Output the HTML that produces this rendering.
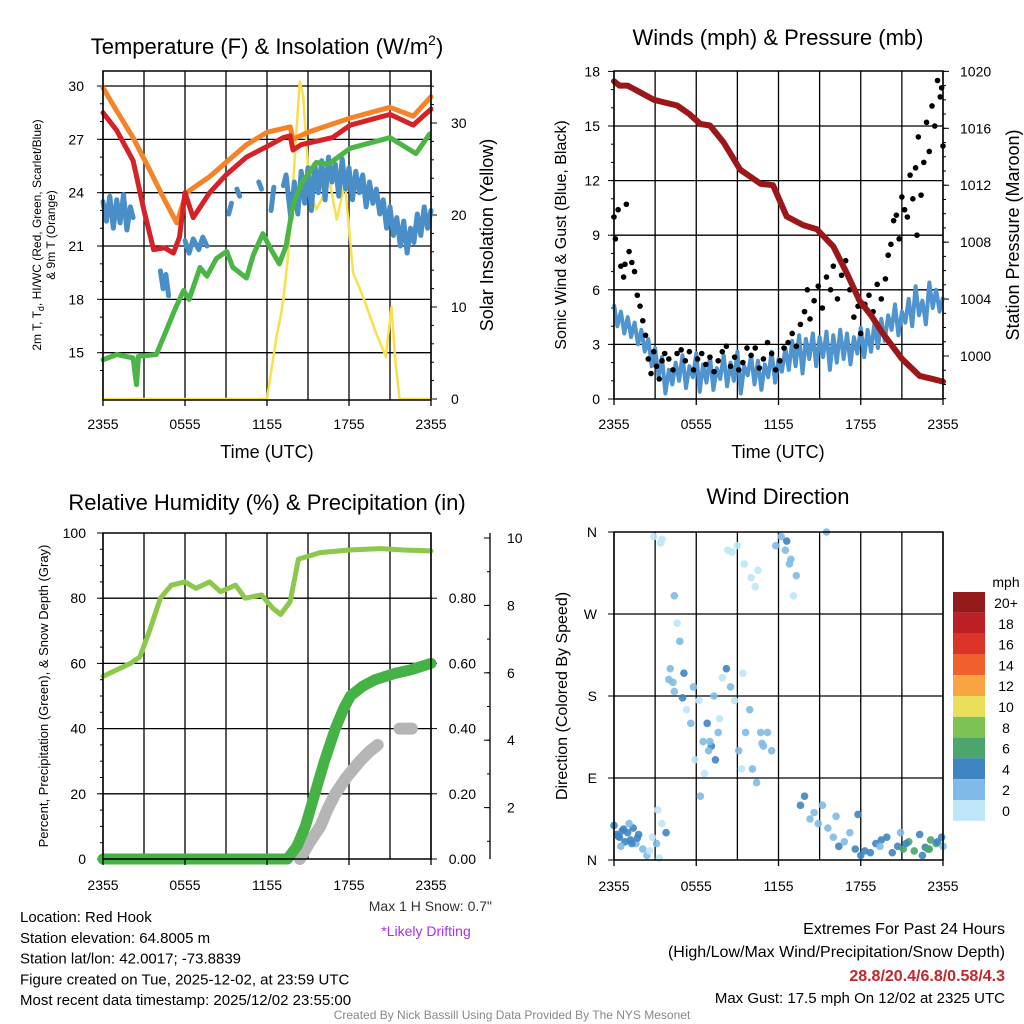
<!DOCTYPE html>
<html><head><meta charset="utf-8"><style>
body{margin:0;background:#fff;}
svg{display:block;font-family:"Liberation Sans",sans-serif;}
</style></head><body>
<svg id="c" width="1024" height="1024" viewBox="0 0 1024 1024" xmlns="http://www.w3.org/2000/svg"></svg>
<script>
// ---------- data ----------
const tempHours=[0,1,2.2,3.0,3.7,4.5,5.15,5.6,6.0,6.6,7.8,9,10.5,12,13.2,13.7,13.9,14.5,16.8,18.1,21.0,22.7,24];
const airTemp=[28.5,27.5,25.8,23.0,20.8,20.9,20.6,21.5,24.0,22.6,24.0,25.0,26.0,26.6,27.1,27.2,26.4,26.7,27.1,27.8,28.4,27.8,28.7];
const orangeHours=[0,1,2.2,3.4,4.5,5.4,6.1,7.8,10.5,12.0,13.7,13.9,15,18.1,21,22.7,24];
const temp9m=[29.9,28.6,27.1,25.3,23.6,22.3,24.0,24.9,26.7,27.4,27.7,27.0,27.4,28.2,28.8,28.3,29.4];
const dewHours=[0,1,2.2,2.45,2.6,3.9,4.5,5.3,5.9,6.3,7.1,7.6,8.3,9.05,9.5,10.5,11.0,11.7,12.3,12.9,13.4,13.9,14.5,15.6,16.5,18.1,21.0,22.9,23.9];
const dewPoint=[14.6,14.9,14.7,13.2,14.8,14.9,16.0,17.5,18.5,18.0,19.8,19.3,20.3,20.7,19.8,19.2,20.5,21.7,20.8,20.0,21.0,23.3,24.5,25.7,25.6,26.5,27.1,26.2,27.3];
const chillHours=[0,0.25,0.5,0.75,1,1.25,1.5,1.75,2.0,2.2,null,4.2,4.4,4.6,4.8,null,6.0,6.3,6.6,7.0,7.3,7.6,null,9.2,9.4,null,9.8,10.0,null,11.4,11.6,null,12.3,12.5,null,13.2,13.4,13.75,14,14.25,14.5,14.75,15,15.25,15.5,15.75,16,16.25,16.5,16.75,17,17.25,17.5,17.75,18,18.25,18.5,18.75,19,19.25,19.5,19.75,20,20.25,20.5,20.75,21,21.25,21.5,21.75,22,22.25,22.5,22.75,23,23.25,23.5,23.75,24];
const windChill=[23.5,22.4,23.8,22.0,23.6,22.3,23.9,21.9,23.2,22.6,null,19.6,18.6,19.4,18.2,null,21.3,20.6,21.4,20.8,21.5,21.0,null,22.8,23.4,null,24.2,23.8,null,24.6,24.2,null,23.0,24.3,null,24.4,25.0,22.5,24.6,22.8,25.2,23.4,25.4,23.0,25.6,24.0,25.8,23.6,26.0,24.6,25.6,23.8,25.9,24.2,25.4,23.6,25.2,24.0,25.0,23.2,24.6,23.4,24.2,22.8,23.6,22.0,23.2,21.6,22.6,21.0,22.4,20.6,22.0,21.2,22.8,21.6,23.2,22.0,23.0];
const solarHours=[0,12,12.3,12.7,13.0,13.2,13.5,13.8,14.1,14.4,14.65,15.0,15.3,15.6,16.1,16.6,17.1,17.7,18.3,18.8,19.3,20.0,20.7,21.1,21.4,21.7,24];
const insolation=[0,0,3,6.8,9,10.8,15,20.6,28,34.5,33,25,22,20.6,22,23.5,19.5,23.5,13.7,12,10,7.1,4.6,10,4,0,0];

const pressHours=[0,0.4,1,2.9,4.6,5.5,6.3,7,8,9.2,10.7,11.6,12.6,13.8,14.8,16,17,17.9,18.8,19.6,21,22.3,23.2,24];
const pressure=[1019.3,1019.0,1019.0,1018.0,1017.6,1017.0,1016.3,1016.2,1015.0,1013.1,1012.1,1012.0,1009.8,1009.2,1008.9,1007.7,1005.8,1003.9,1002.8,1001.6,999.8,998.6,998.4,998.2];
const windSpeed=[5.2,4.0,4.8,3.6,4.5,3.4,4.2,3.0,3.8,2.6,3.3,1.8,2.8,1.2,2.3,0.3,1.6,0.8,2.0,1.0,2.4,0.6,1.8,1.2,2.5,0.4,1.9,0.9,2.3,0.5,1.7,1.1,2.4,0.7,2.0,1.0,2.6,0.3,1.8,1.3,2.4,0.8,2.1,0.5,1.9,1.2,2.6,0.9,2.2,1.5,2.8,1.6,3.2,1.8,3.5,1.4,3.3,2.2,3.6,1.8,3.4,2.3,3.7,1.6,3.5,2.0,3.8,2.2,3.6,1.9,3.4,2.5,3.9,2.3,3.8,2.6,4.2,2.8,4.4,3.2,4.6,3.8,5.2,3.5,4.8,4.2,5.5,4.0,6.2,4.6,5.4,4.1,6.4,5.0,6.0,4.8,5.6];
const windHours=windSpeed.map((v,i)=>i*0.25);
const gustHours=[0,0.1,0.3,0.5,0.7,0.8,0.9,1.1,1.3,1.5,1.7,1.9,2.1,2.3,2.5,2.7,2.9,3.1,3.3,3.5,3.7,4,4.3,4.6,4.9,5.2,5.5,5.8,6.1,6.4,6.7,7,7.3,7.6,7.9,8.2,8.5,8.8,9.1,9.4,9.7,10,10.3,10.6,10.9,11.2,11.5,11.8,12.1,12.4,12.7,13,13.3,13.6,13.9,14.1,14.3,14.6,14.9,15.2,15.5,15.8,16,16.3,16.6,16.9,17.2,17.5,17.8,18,18.3,18.6,18.9,19.2,19.5,19.8,20,20.2,20.4,20.6,20.8,21,21.2,21.4,21.6,21.8,22,22.2,22.4,22.6,22.8,23,23.2,23.4,23.6,23.8,24,23.9,22.1];
const gusts=[10,8.8,10.4,7.3,6.7,7.4,10.7,8.1,7.5,7.0,5.7,5.1,4.3,3.5,2.2,1.4,2.6,1.8,1.1,2.1,2.5,2.2,1.6,2.5,2.7,2.1,2.6,1.6,2.2,2.5,1.9,2.3,1.5,2.1,2.6,2.9,1.8,2.3,1.6,2.0,2.8,2.4,2.8,1.7,2.2,3.1,2.5,1.6,2.1,2.8,3.1,3.6,2.9,4.1,4.8,6.0,4.4,5.4,6.2,5.0,6.7,6.0,7.3,5.5,6.8,7.6,6.0,4.5,5.1,3.6,5.2,5.7,4.8,6.3,5.5,6.6,7.9,8.5,9.8,10.1,8.8,11.1,10.4,10.0,12.3,11.0,12.7,14.4,11.2,13.0,15.2,13.6,16.1,15.0,17.5,16.6,13.9,17.1,9.0];

const rhHours=[0,1,2,2.7,3.4,4.2,5,6,6.8,7.8,8.6,9.7,10.4,11.6,12.4,13,13.7,14.3,15.9,18,20.3,22,24];
const relHum=[56,58,60,62,70,80,84,85,83,85,82,84,80,81,77,75,79,92,94,94.8,95.2,94.8,94.5];
const precipHours=[0,13.5,14.2,14.8,15.5,16.2,17,17.6,18.1,19,19.9,21.4,22.5,24];
const precip=[0,0,0.04,0.1,0.2,0.3,0.4,0.46,0.5,0.53,0.55,0.57,0.58,0.60];
const snowHours=[14.4,15.1,15.9,16.4,17,17.8,18.8,19.5,20.1,null,21.7,22.6];
const snowDepth=[0.0,0.05,0.1,0.15,0.2,0.25,0.3,0.33,0.35,null,0.40,0.40];

const dirHours=[0,0.2,0.4,0.6,0.8,1,1.2,1.4,1.6,1.8,0.5,1.1,2.1,2.4,2.6,2.8,3.1,3.3,3.5,3.2,3.8,2.9,3.4,3.5,4.1,4.3,4.4,4.6,4.8,5.1,4.4,5.3,5.6,5.8,6.2,6.5,6.8,7.1,7.4,7.6,5.9,6.3,6.6,7.0,7.3,7.7,7.9,8.2,8.5,8.8,9.1,9.3,9.6,9.9,10.1,10.4,10.7,10.9,11.2,11.5,8.3,8.6,9.0,9.5,10.0,10.3,10.5,11.8,12.2,12.5,12.8,12.6,12.9,13.1,13.6,13.9,14.3,14.6,14.9,15.2,15.6,16.0,16.4,16.8,17.2,17.6,18.0,18.3,18.7,19.1,19.5,19.9,20.3,20.7,21.1,21.5,21.9,22.3,22.7,23.1,23.5,23.9,22.5,23.0,23.6,20.9,24,15.5,17.8,0.3,0.7,1.3,1.7,4.0,5.0,6.9,9.4,10.8,13.3,16.2,19.4,21.3,22.9];
const dirDeg=[38,28,25,32,20,30,22,35,18,28,15,40,12,5,10,25,18,2,40,55,30,355,348,352,210,195,185,260,240,205,290,165,150,190,175,130,150,125,110,140,110,70,95,130,180,155,200,210,190,175,120,100,140,165,100,85,140,125,140,120,340,338,345,325,310,300,318,345,355,340,325,350,330,290,60,70,45,52,40,60,35,25,15,20,30,12,5,10,8,18,22,25,8,15,12,20,10,28,14,22,18,25,5,12,20,30,15,360,50,26,34,18,24,198,178,120,205,128,312,48,15,18,12];
const dirSpeed=[5,5,4,5,4,5,4,4,3,4,2,3,3,2,1,1,2,1,1,1,4,1,1,1,3,3,3,1,3,4,3,1,2,3,1,3,4,4,4,3,1,3,1,3,3,1,1,4,3,1,3,1,3,3,3,2,3,2,3,2,1,1,1,1,1,1,1,3,3,3,3,4,3,1,4,4,3,3,3,3,3,3,4,3,3,4,4,4,5,4,5,4,4,5,7,6,7,5,5,7,7,5,5,6,4,3,3,2,4,5,4,5,4,3,4,3,1,3,3,3,3,5,7];

const cbLabels=["20+","18","16","14","12","10","8","6","4","2","0"];
const cbColors=["#941b1b","#bc1f24","#dc3328","#ef602c","#f7a441","#e9df5b","#7dc254","#4ba56c","#3f85c2","#7fbbe6","#bfe5f8"];

// ---------- helpers ----------
const svg=document.getElementById('c');
const NS="http://www.w3.org/2000/svg";
function mk(tag,attrs,parent){const e=document.createElementNS(NS,tag);for(const k in attrs)e.setAttribute(k,attrs[k]);(parent||svg).appendChild(e);return e;}
function txt(s,x,y,size,anchor,extra){const e=mk('text',Object.assign({x:x,y:y,'font-size':size,'text-anchor':anchor||'start',fill:'#000'},extra||{}));e.textContent=s;return e;}
function lin(d0,d1,r0,r1){return v=>r0+(v-d0)/(d1-d0)*(r1-r0);}
function pathFrom(xs,ys,fx,fy){let d='',pen=false;for(let i=0;i<xs.length;i++){if(xs[i]===null||ys[i]===null){pen=false;continue;}d+=(pen?'L':'M')+fx(xs[i]).toFixed(1)+','+fy(ys[i]).toFixed(1);pen=true;}return d;}
function frame(L,T,R,B,nameP){
  const g=mk('g',{});
  
  
  return g;
}
function vgrid(g,L,T,R,B){const fx=lin(0,24,L,R);for(let h=0;h<=24;h+=3){mk('line',{x1:fx(h),y1:T,x2:fx(h),y2:B,stroke:'#000','stroke-width':1.3},g);}}
function xaxis(L,R,B,name,off){
  const fx=lin(0,24,L,R);const lbl=["2355","0555","1155","1755","2355"];
  const g=mk('g',{});
  
  
  for(let i=0;i<5;i++){mk('line',{x1:fx(i*6),y1:B,x2:fx(i*6),y2:B+6,stroke:'#000','stroke-width':1.3},g);
    const t=txt(lbl[i],fx(i*6),B+off,14,'middle');g.appendChild(t);}
}

// ================= PANEL 1 =================
{const L=103,T=71,R=431,B=400;
const fx=lin(0,24,L,R), fy=lin(30,15,86,352.7), fs=lin(0,30,399,123);
const g=frame(L,T,R,B,'temperature');vgrid(g,L,T,R,B);
[30,27,24,21,18,15].forEach(v=>{mk('line',{x1:L,y1:fy(v),x2:R,y2:fy(v),stroke:'#000','stroke-width':1.3},g);});
const yl=mk('g',{});


[30,27,24,21,18,15].forEach(v=>{mk('line',{x1:L-6,y1:fy(v),x2:L,y2:fy(v),stroke:'#000'},yl);yl.appendChild(txt(String(v),L-19,fy(v)+5,14,'end'));});
for(let v=14;v<=30;v++){mk('line',{x1:L-3,y1:fy(v),x2:L,y2:fy(v),stroke:'#000'},yl);}
const yr=mk('g',{});


[0,10,20,30].forEach(v=>{mk('line',{x1:R,y1:fs(v),x2:R+6,y2:fs(v),stroke:'#000'},yr);yr.appendChild(txt(String(v),R+20,fs(v)+5,14,'start'));});
for(let v=0;v<=34;v+=2){mk('line',{x1:R,y1:fs(v),x2:R+3,y2:fs(v),stroke:'#000'},yr);}
const series=[[solarHours,insolation,fs,'#f9e04b',2.5,'insolation-line'],[chillHours,windChill,fy,'#4a8ec8',5,'heat-index-wind-chill-line'],[dewHours,dewPoint,fy,'#4bb545',5,'dew-point-line'],[orangeHours,temp9m,fy,'#f5832a',5,'temp-9m-line'],[tempHours,airTemp,fy,'#d42228',5,'temp-2m-line']];
series.forEach(s=>{const p=mk('path',{d:pathFrom(s[0],s[1],fx,s[2]),fill:'none',stroke:s[3],'stroke-width':s[4],'stroke-linejoin':'round','stroke-linecap':'round'});

});
const fr=mk('rect',{x:L,y:T,width:R-L,height:B-T,fill:'none',stroke:'#000','stroke-width':1.5});


xaxis(L,R,B,'temperature-x-axis',29);
const t1=txt('',267,54,22,'middle');t1.innerHTML='Temperature (F) &amp; Insolation (W/m<tspan font-size="14" dy="-9">2</tspan><tspan dy="9">)</tspan>';


const xt=txt('Time (UTC)',267,458,18,'middle');


const yt=txt('',0,0,12,'middle',{transform:'translate(47,235) rotate(-90)'});yt.innerHTML='<tspan x="0" dy="-6">2m T, T<tspan font-size="9" dy="3">d</tspan><tspan dy="-3">, HI/WC (Red, Green, Scarlet/Blue)</tspan></tspan><tspan x="0" dy="14">&amp; 9m T (Orange)</tspan>';


const yt2=txt('Solar Insolation (Yellow)',0,0,18,'middle',{transform:'translate(493,235) rotate(-90)'});


}

// ================= PANEL 2 =================
{const L=614,T=71,R=943,B=399;
const fx=lin(0,24,L,R), fy=lin(0,18,399,71.4), fp=lin(1000,1016,356,128.3);
const g=frame(L,T,R,B,'winds');vgrid(g,L,T,R,B);
[3,6,9,12,15].forEach(v=>mk('line',{x1:L,y1:fy(v),x2:R,y2:fy(v),stroke:'#000','stroke-width':1.3},g));
const yl=mk('g',{});


[0,3,6,9,12,15,18].forEach(v=>{mk('line',{x1:L-6,y1:fy(v),x2:L,y2:fy(v),stroke:'#000'},yl);yl.appendChild(txt(String(v),L-14,fy(v)+5,14,'end'));});
for(let v=1;v<18;v++)mk('line',{x1:L-3,y1:fy(v),x2:L,y2:fy(v),stroke:'#000'},yl);
const yr=mk('g',{});


[1000,1004,1008,1012,1016,1020].forEach(v=>{mk('line',{x1:R,y1:fp(v),x2:R+6,y2:fp(v),stroke:'#000'},yr);yr.appendChild(txt(String(v),R+17,fp(v)+5,14,'start'));});
for(let v=997;v<=1020;v++)mk('line',{x1:R,y1:fp(v),x2:R+3,y2:fp(v),stroke:'#000'},yr);
const w=mk('path',{d:pathFrom(windHours,windSpeed,fx,fy),fill:'none',stroke:'#4f93cf','stroke-width':4,'stroke-linejoin':'round'});


const gg=mk('g',{});


for(let i=0;i<gusts.length;i++)mk('circle',{cx:fx(gustHours[i]),cy:fy(gusts[i]),r:2.8,fill:'#000'},gg);
const p=mk('path',{d:pathFrom(pressHours,pressure,fx,fp),fill:'none',stroke:'#9b1719','stroke-width':6,'stroke-linejoin':'round','stroke-linecap':'round'});


const fr=mk('rect',{x:L,y:T,width:R-L,height:B-T,fill:'none',stroke:'#000','stroke-width':1.5});


xaxis(L,R,B,'winds-x-axis',30);
const t=txt('Winds (mph) & Pressure (mb)',778,45,22,'middle');


const xt=txt('Time (UTC)',778,458,18,'middle');


const yt=txt('Sonic Wind & Gust (Blue, Black)',0,0,16,'middle',{transform:'translate(566,235) rotate(-90)'});


const yt2=txt('Station Pressure (Maroon)',0,0,18,'middle',{transform:'translate(1019,235) rotate(-90)'});


}

// ================= PANEL 3 =================
{const L=103,T=533,R=431,B=859;
const fx=lin(0,24,L,R), fy=lin(0,100,859,533), fpr=lin(0,1,859,533), fsn=lin(0,10,875,538);
const g=frame(L,T,R,B,'humidity');vgrid(g,L,T,R,B);
[20,40,60,80].forEach(v=>mk('line',{x1:L,y1:fy(v),x2:R,y2:fy(v),stroke:'#000','stroke-width':1.3},g));
const yl=mk('g',{});


[0,20,40,60,80,100].forEach(v=>{mk('line',{x1:L-6,y1:fy(v),x2:L,y2:fy(v),stroke:'#000'},yl);yl.appendChild(txt(String(v),L-17,fy(v)+5,14,'end'));});
for(let v=0;v<=100;v+=5)mk('line',{x1:L-3,y1:fy(v),x2:L,y2:fy(v),stroke:'#000'},yl);
const yr=mk('g',{});


[0,0.2,0.4,0.6,0.8].forEach(v=>{mk('line',{x1:R,y1:fpr(v),x2:R+6,y2:fpr(v),stroke:'#000'},yr);yr.appendChild(txt(v.toFixed(2),R+45,fpr(v)+5,14,'end'));});
const ys=mk('g',{});


mk('line',{x1:490,y1:533,x2:490,y2:859,stroke:'#000','stroke-width':1.3},ys);
[2,4,6,8,10].forEach(v=>{mk('line',{x1:484,y1:fsn(v),x2:490,y2:fsn(v),stroke:'#000'},ys);ys.appendChild(txt(String(v),507,fsn(v)+5,14,'start'));});
for(let v=1;v<=10;v++)mk('line',{x1:487,y1:fsn(v),x2:490,y2:fsn(v),stroke:'#000'},ys);
const sn=mk('path',{d:pathFrom(snowHours,snowDepth,fx,fpr),fill:'none',stroke:'#b5b5b5','stroke-width':12,'stroke-linejoin':'round','stroke-linecap':'round'});


const pr=mk('path',{d:pathFrom(precipHours,precip,fx,fpr),fill:'none',stroke:'#45b245','stroke-width':11,'stroke-linejoin':'round','stroke-linecap':'round'});


const rh=mk('path',{d:pathFrom(rhHours,relHum,fx,fy),fill:'none',stroke:'#8cc84b','stroke-width':5,'stroke-linejoin':'round','stroke-linecap':'round'});


const fr=mk('rect',{x:L,y:T,width:R-L,height:B-T,fill:'none',stroke:'#000','stroke-width':1.5});


xaxis(L,R,B,'humidity-x-axis',31);
const t=txt('Relative Humidity (%) & Precipitation (in)',267,510,22,'middle');


const yt=txt('Percent, Precipitation (Green), & Snow Depth (Gray)',0,0,13,'middle',{transform:'translate(48,696) rotate(-90)'});


const ms=txt('Max 1 H Snow: 0.7"',492,911,14,'end',{fill:'#333'});


const ld=txt('*Likely Drifting',426,936,14,'middle',{fill:'#a830e8'});


}

// ================= PANEL 4 =================
{const L=614,T=532,R=943,B=860;
const fx=lin(0,24,L,R), fd=lin(0,360,860,532);
const g=frame(L,T,R,B,'direction');vgrid(g,L,T,R,B);
[90,180,270].forEach(v=>mk('line',{x1:L,y1:fd(v),x2:R,y2:fd(v),stroke:'#000','stroke-width':1.3},g));
const yl=mk('g',{});


const dl=["N","E","S","W","N"];
[0,90,180,270,360].forEach((v,i)=>{mk('line',{x1:L-6,y1:fd(v),x2:L,y2:fd(v),stroke:'#000'},yl);yl.appendChild(txt(dl[i],L-17,fd(v)+5,14,'end'));});
const pts=mk('g',{});


function spdColor(s){const idx=Math.min(10,Math.floor(s/2));return cbColors[10-idx];}
for(let i=0;i<dirDeg.length;i++)mk('circle',{cx:fx(dirHours[i]),cy:fd(dirDeg[i]),r:3.8,fill:spdColor(dirSpeed[i]),'fill-opacity':0.9},pts);
const fr=mk('rect',{x:L,y:T,width:R-L,height:B-T,fill:'none',stroke:'#000','stroke-width':1.5});


xaxis(L,R,B,'direction-x-axis',31);
const t=txt('Wind Direction',778,504,22,'middle');


const yt=txt('Direction (Colored By Speed)',0,0,16,'middle',{transform:'translate(567,696) rotate(-90)'});


const cb=mk('g',{});


const cbT=592,h=20.8;
for(let i=0;i<cbColors.length;i++){mk('rect',{x:953,y:cbT+i*h,width:32,height:h,fill:cbColors[i]},cb);cb.appendChild(txt(cbLabels[i],1006,cbT+i*h+16,14,'middle'));}
cb.appendChild(txt('mph',1006,587,14,'middle'));
}

// ================= FOOTER =================
const info=["Location: Red Hook","Station elevation: 64.8005 m","Station lat/lon: 42.0017; -73.8839","Figure created on Tue, 2025-12-02, at 23:59 UTC","Most recent data timestamp: 2025/12/02 23:55:00"];
info.forEach((s,i)=>{const e=txt(s,20,922+i*20.8,15,'start');

});
const ex1=txt('Extremes For Past 24 Hours',1005,934,16,'end');


const ex2=txt('(High/Low/Max Wind/Precipitation/Snow Depth)',1005,957,16,'end');


const ex3=txt('28.8/20.4/6.8/0.58/4.3',1005,981,16,'end',{fill:'#c4262e','font-weight':'bold'});


const ex4=txt('Max Gust: 17.5 mph On 12/02 at 2325 UTC',1005,1003,15,'end');


const cr=txt('Created By Nick Bassill Using Data Provided By The NYS Mesonet',512,1019,12,'middle',{fill:'#888'});


</script>
</body></html>
